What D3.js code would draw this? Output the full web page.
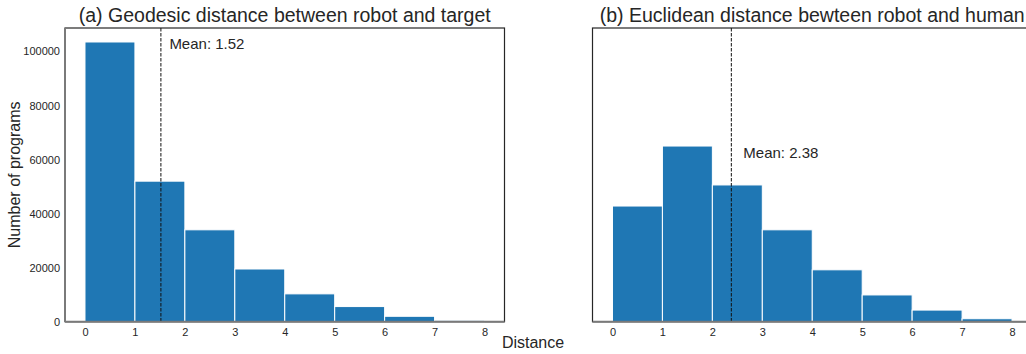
<!DOCTYPE html>
<html>
<head>
<meta charset="utf-8">
<script src="https://cdn.jsdelivr.net/npm/d3@7"></script>
<style>
  body { margin: 0; background: #fff; }
  text { font-family: "Liberation Sans", Arial, sans-serif; }
</style>
</head>
<body>
<div id="chart"></div>
<script>
// Histogram bin edges (distance) and counts
const binEdges = [0, 1, 2, 3, 4, 5, 6, 7, 8];
const geodesicCounts = [103500, 52000, 34000, 19500, 10300, 5600, 2000, 500];
const euclideanCounts = [42800, 65000, 50600, 34000, 19200, 9900, 4300, 1100];
const means = [1.52, 2.38];
const titles = ["(a) Geodesic distance between robot and target",
                "(b) Euclidean distance bewteen robot and human"];
const xTicks = [0, 1, 2, 3, 4, 5, 6, 7, 8];
const yTicks = [0, 20000, 40000, 60000, 80000, 100000];

const width = 1026;
const height = 354;
const plotTop = 28, plotBottom = 321.7;
const panelLeft = [65, 592.5];
const panelWidth = 439.5;

const svg = d3.select("#chart")
    .append("svg")
    .attr("width", width)
    .attr("height", height);

// Shared y scale (matplotlib pads 5% above the tallest bar)
const yMax = d3.max(geodesicCounts.concat(euclideanCounts)) * 1.05;
const y = d3.scaleLinear().domain([0, yMax]).range([plotBottom, plotTop]);

const panels = [
    { counts: geodesicCounts, mean: means[0], title: titles[0], label: [0.17, 101000], showY: true },
    { counts: euclideanCounts, mean: means[1], title: titles[1], label: [0.24, 60500], showY: false }
];

panels.forEach((p, k) => {
    const x = d3.scaleLinear()
        .domain([-0.4, 8.4])
        .range([panelLeft[k], panelLeft[k] + panelWidth]);

    const g = svg.append("g");

    // frame
    g.append("rect")
        .attr("x", x(-0.4))
        .attr("y", plotTop)
        .attr("width", panelWidth)
        .attr("height", plotBottom - plotTop)
        .attr("fill", "none")
        .attr("stroke", "#262626")
        .attr("stroke-width", 1.2);

    // bars
    const bins = p.counts.map((c, i) => ({ x0: binEdges[i], x1: binEdges[i + 1], count: c }));
    g.selectAll("rect.bar")
        .data(bins)
        .enter()
        .append("rect")
        .attr("class", "bar")
        .attr("x", d => x(d.x0))
        .attr("y", d => y(d.count))
        .attr("width", d => x(d.x1) - x(d.x0))
        .attr("height", d => y(0) - y(d.count))
        .attr("fill", "#1f77b4")
        .attr("stroke", "white")
        .attr("stroke-width", 1);

    // mean line
    g.append("line")
        .attr("x1", x(p.mean))
        .attr("x2", x(p.mean))
        .attr("y1", plotTop)
        .attr("y2", plotBottom)
        .attr("stroke", "#111")
        .attr("stroke-width", 1)
        .attr("stroke-dasharray", "3.5,1.5");

    g.append("text")
        .attr("x", x(p.mean + p.label[0]))
        .attr("y", y(p.label[1]))
        .style("font-size", "15px")
        .attr("fill", "#262626")
        .text("Mean: " + p.mean.toFixed(2));

    // spines on the left and bottom drawn grey like seaborn
    g.append("line")
        .attr("x1", x(-0.4)).attr("x2", x(8.4))
        .attr("y1", plotBottom).attr("y2", plotBottom)
        .attr("stroke", "#7a7a7a").attr("stroke-width", 2);
    if (p.showY) {
        g.append("line")
            .attr("x1", x(-0.4)).attr("x2", x(-0.4))
            .attr("y1", plotTop).attr("y2", plotBottom)
            .attr("stroke", "#7a7a7a").attr("stroke-width", 2);
    }

    // x axis
    const xAxis = g.append("g")
        .attr("transform", `translate(0, ${plotBottom})`)
        .call(d3.axisBottom(x).tickValues(xTicks).tickSize(0).tickPadding(7));
    xAxis.select(".domain").remove();
    xAxis.selectAll("text")
        .style("font-size", "11px")
        .style("font-family", "'Liberation Sans', Arial, sans-serif")
        .attr("fill", "#262626");

    // y axis
    if (p.showY) {
        const yAxis = g.append("g")
            .attr("transform", `translate(${x(-0.4)}, 0)`)
            .call(d3.axisLeft(y).tickValues(yTicks).tickFormat(d3.format("d")).tickSize(0).tickPadding(5));
        yAxis.select(".domain").remove();
        yAxis.selectAll("text")
            .style("font-size", "11px")
            .style("font-family", "'Liberation Sans', Arial, sans-serif")
            .attr("fill", "#262626");
    }

    // title
    g.append("text")
        .attr("x", x(4))
        .attr("y", 22)
        .attr("text-anchor", "middle")
        .style("font-size", "19.5px")
        .attr("fill", "#262626")
        .text(p.title);
});

// shared axis labels
svg.append("text")
    .attr("transform", `translate(20, ${(plotTop + plotBottom) / 2}) rotate(-90)`)
    .attr("text-anchor", "middle")
    .style("font-size", "16px")
    .attr("fill", "#262626")
    .text("Number of programs");

svg.append("text")
    .attr("x", 533)
    .attr("y", 348)
    .attr("text-anchor", "middle")
    .style("font-size", "16px")
    .attr("fill", "#262626")
    .text("Distance");
</script>
</body>
</html>
